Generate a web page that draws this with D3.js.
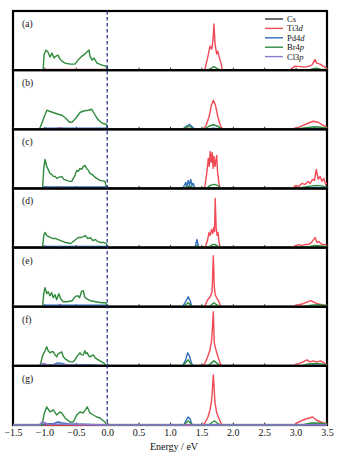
<!DOCTYPE html>
<html><head><meta charset="utf-8">
<script src="https://cdn.jsdelivr.net/npm/d3@7"></script>
<style>body{margin:0;background:#fff}svg{display:block}text{font-family:"Liberation Serif","Times New Roman",serif;fill:#111}</style>
</head><body><div id="chart"></div>
<script>
// ---- data (energy eV, DOS arb.) ----
const panelLabels = ["(a)","(b)","(c)","(d)","(e)","(f)","(g)"];
const seriesNames = ["Cs","Ti3d","Pd4d","Br4p","Cl3p"];
const xTicks = [-1.5,-1.0,-0.5,0.0,0.5,1.0,1.5,2.0,2.5,3.0,3.5];
const csZero = [[-1.5,0],[3.5,0]];

const aTi = [[-1.5,0],[-1.05,0],[-1.02,0.6],[-0.5,0.6],[-0.02,0.6],[0,0],[1.55,0],[1.557,1],[1.605,14],[1.637,24],[1.664,21],[1.685,30],[1.70,46],[1.717,26],[1.744,16],[1.76,19],[1.78,14],[1.812,7],[1.833,0],[2.91,0],[2.99,4],[3.15,3],[3.256,4.7],[3.31,10.7],[3.335,7],[3.389,6],[3.437,4],[3.5,2]];
const aBr = [[-1.5,0],[-1.02,0],[-1.006,15],[-0.975,20],[-0.943,18],[-0.911,13],[-0.879,17],[-0.847,12],[-0.815,14],[-0.783,15],[-0.752,11],[-0.72,9],[-0.672,7],[-0.592,6],[-0.513,6],[-0.465,10],[-0.40,14],[-0.338,17],[-0.29,20],[-0.274,14],[-0.242,10],[-0.21,12],[-0.162,7],[-0.083,5],[-0.019,4],[0,0],[1.6,0],[1.66,2],[1.70,3.5],[1.74,2],[1.8,0],[3.2,0],[3.28,1.5],[3.33,2],[3.4,1],[3.5,0.5]];

const bTi = [[-1.5,0],[-0.85,0],[-0.75,1.3],[-0.65,0],[1.2,0],[1.28,1],[1.33,0],[1.52,0],[1.57,3],[1.62,12],[1.66,24],[1.69,29],[1.72,25],[1.76,13],[1.8,4],[1.84,0],[2.9,0],[3.0,1],[3.12,4],[3.2,6],[3.28,8],[3.36,7],[3.44,4],[3.5,2]];
const bPd = [[-1.5,0],[-1.05,0],[-1.0,1],[-0.5,1.2],[-0.02,1],[0,0],[1.2,0],[1.26,3],[1.31,5],[1.36,2],[1.4,0],[1.6,0],[1.69,1],[1.8,0],[3.0,0],[3.3,1],[3.5,0.5]];
const bBr = [[-1.5,0],[-1.08,0],[-1.04,6],[-1.0,13],[-0.96,19],[-0.92,18],[-0.85,16.5],[-0.78,15],[-0.72,14],[-0.66,11],[-0.6,7],[-0.56,7],[-0.5,11],[-0.43,17],[-0.36,18.5],[-0.3,19],[-0.25,20],[-0.2,15],[-0.15,10],[-0.1,7],[-0.05,5.5],[-0.01,5],[0,0],[1.2,0],[1.27,2.5],[1.31,3],[1.36,1],[1.4,0],[1.55,0],[1.62,3],[1.69,4.5],[1.76,3],[1.84,0],[2.9,0],[3.1,1.2],[3.3,2.5],[3.4,2],[3.5,1]];

const cTi = [[-1.5,0],[-0.85,0],[-0.78,1.5],[-0.7,0],[1.55,0],[1.57,8],[1.59,18],[1.61,30],[1.625,22],[1.64,37],[1.655,26],[1.672,36],[1.687,20],[1.70,32],[1.717,22],[1.744,33],[1.755,18],[1.78,5],[1.8,0],[2.95,0],[3.0,3],[3.05,2],[3.1,5],[3.15,4],[3.2,7],[3.23,5],[3.27,9],[3.3,8],[3.33,19],[3.36,9],[3.39,12],[3.42,7],[3.45,10],[3.48,4],[3.5,6]];
const cPd = [[-1.5,0],[-1.05,0],[-1.0,1.5],[-0.5,1.5],[-0.02,1.5],[0,0],[1.2,0],[1.23,3],[1.25,6],[1.27,2],[1.29,8],[1.31,3],[1.33,9],[1.35,3],[1.37,5],[1.4,0],[3.1,0],[3.3,1],[3.5,0.5]];
const cBr = [[-1.5,0],[-1.03,0],[-1.01,20],[-0.99,29],[-0.963,22],[-0.94,19],[-0.911,15],[-0.885,14],[-0.858,12],[-0.83,12],[-0.805,10],[-0.77,11],[-0.725,12],[-0.69,9],[-0.645,8],[-0.6,7],[-0.565,7],[-0.52,12],[-0.486,18],[-0.46,17],[-0.433,20],[-0.405,19],[-0.38,22],[-0.354,23],[-0.327,20],[-0.3,18],[-0.274,15],[-0.245,14],[-0.221,13],[-0.19,11],[-0.167,10],[-0.115,8],[-0.035,7],[-0.008,0],[1.2,0],[1.28,2],[1.33,2],[1.4,0],[1.58,0],[1.64,3],[1.7,4],[1.76,3],[1.8,0],[3.0,0],[3.2,2],[3.35,3],[3.45,2],[3.5,1]];

const dTi = [[-1.5,0],[-0.8,0],[-0.75,1],[-0.7,0],[1.56,0],[1.6,8],[1.62,15],[1.64,12],[1.66,18],[1.68,14],[1.695,20],[1.71,16],[1.72,49],[1.735,20],[1.75,12],[1.765,15],[1.78,6],[1.8,0],[2.93,0],[3.0,2],[3.05,3],[3.1,2],[3.15,3],[3.2,3],[3.25,5],[3.31,10],[3.34,5],[3.37,6],[3.42,3],[3.47,3],[3.5,2]];
const dPd = [[-1.5,0],[-1.05,0],[-1.0,1],[-0.5,1],[-0.02,1],[0,0],[1.15,0],[1.19,1],[1.23,0],[1.4,0],[1.42,6],[1.43,8],[1.445,3],[1.46,0]];
const dBr = [[-1.5,0],[-1.03,0],[-1.01,12],[-0.99,15],[-0.96,12],[-0.93,11],[-0.9,10],[-0.86,9],[-0.82,9],[-0.78,8],[-0.74,7],[-0.7,6],[-0.66,5],[-0.62,4.5],[-0.58,4],[-0.54,6],[-0.5,8],[-0.46,10],[-0.42,10],[-0.38,11],[-0.35,12],[-0.31,9],[-0.27,10],[-0.23,7],[-0.19,8],[-0.15,6],[-0.1,5],[-0.05,5],[-0.01,4],[0,0],[1.4,0],[1.43,2],[1.46,0],[1.6,0],[1.68,3],[1.72,3],[1.8,0],[3.1,0],[3.3,2],[3.5,1]];

const eTi = [[-1.5,0],[-0.8,0],[-0.75,2],[-0.7,0],[1.55,0],[1.6,7],[1.64,10],[1.67,15],[1.69,51],[1.705,20],[1.72,12],[1.75,8],[1.78,5],[1.81,0],[2.95,0],[3.05,2],[3.12,3],[3.2,5],[3.25,6],[3.3,4],[3.35,3],[3.42,2],[3.5,1]];
const ePd = [[-1.5,0],[-1.05,0],[-1.0,1.5],[-0.5,1.5],[-0.02,1.5],[0,0],[1.2,0],[1.25,5],[1.29,10],[1.32,6],[1.35,0]];
const eBr = [[-1.5,0],[-1.03,0],[-1.01,13],[-0.99,19],[-0.963,13],[-0.94,15],[-0.911,11],[-0.885,14],[-0.858,9],[-0.83,12],[-0.805,7],[-0.77,13],[-0.74,8],[-0.7,5],[-0.64,5],[-0.56,6],[-0.51,10],[-0.47,11],[-0.44,9],[-0.41,15],[-0.38,16],[-0.36,10],[-0.33,8],[-0.27,6],[-0.18,5],[-0.09,4],[-0.02,4],[0,0],[1.22,0],[1.27,3],[1.29,4],[1.32,2],[1.35,0],[1.62,0],[1.68,3],[1.7,4],[1.74,2],[1.8,0],[3.1,0],[3.25,1.5],[3.35,2],[3.5,1]];

const fTi = [[-1.5,0],[1.52,0],[1.56,3],[1.6,9],[1.637,16],[1.664,26],[1.69,54],[1.705,23],[1.744,13],[1.78,6],[1.796,3],[1.82,0],[2.93,0],[3.0,1],[3.08,3],[3.12,4],[3.18,6],[3.23,4],[3.28,5],[3.33,4],[3.4,5],[3.45,3],[3.5,1]];
const fPd = [[-1.5,0],[-1.05,0],[-1.0,1],[-0.85,1.5],[-0.78,3],[-0.72,2.5],[-0.65,1],[-0.3,1],[0,0],[1.2,0],[1.25,6],[1.28,13],[1.31,10],[1.34,3],[1.37,0],[3.1,0],[3.3,1],[3.5,0]];
const fBr = [[-1.5,0],[-1.07,0],[-1.03,10],[-0.99,15],[-0.963,19],[-0.94,15],[-0.911,13],[-0.885,14],[-0.858,14],[-0.83,11],[-0.805,9],[-0.78,12],[-0.752,13],[-0.725,14],[-0.699,9],[-0.67,7],[-0.645,6],[-0.62,5],[-0.592,4],[-0.54,4],[-0.51,6],[-0.486,9],[-0.46,11],[-0.433,13],[-0.41,11],[-0.38,11],[-0.354,15],[-0.335,12],[-0.317,13],[-0.295,10],[-0.274,9],[-0.25,10],[-0.221,11],[-0.19,8],[-0.167,7],[-0.115,5],[-0.06,3],[-0.008,0],[1.2,0],[1.26,4],[1.29,6],[1.32,3],[1.36,0],[1.6,0],[1.66,3],[1.7,5],[1.74,3],[1.8,0],[3.1,0],[3.2,2],[3.35,2.5],[3.5,1]];
const fCl = [[-1.5,0],[-1.07,0],[-1.04,2.5],[-1.0,2],[-0.95,1.2],[-0.6,0.8],[-0.2,0.5],[0,0],[3.5,0]];

const gTi = [[-1.5,0],[1.52,0],[1.557,2],[1.605,8],[1.637,15],[1.664,25],[1.69,50],[1.717,22],[1.744,12],[1.77,8],[1.81,2],[1.83,0],[2.98,0],[3.02,2],[3.12,5],[3.22,7],[3.27,8],[3.33,5],[3.4,3],[3.45,2],[3.5,1]];
const gPd = [[-1.5,0],[-1.05,0],[-1.0,1],[-0.85,1.5],[-0.78,3],[-0.72,2],[-0.6,1],[0,0],[1.22,0],[1.26,5],[1.29,8],[1.32,6],[1.35,0],[3.1,0],[3.3,1],[3.5,0]];
const gBr = [[-1.5,0],[-1.04,0],[-1.0,12],[-0.963,18],[-0.911,13],[-0.858,15],[-0.805,10],[-0.752,13],[-0.725,12],[-0.672,7],[-0.592,3],[-0.54,3],[-0.486,10],[-0.433,13],[-0.38,12],[-0.317,18],[-0.274,12],[-0.221,10],[-0.167,8],[-0.115,7],[-0.035,3],[-0.008,0],[1.22,0],[1.27,3],[1.29,4],[1.33,2],[1.36,0],[1.62,0],[1.68,3],[1.71,4],[1.75,2],[1.8,0],[3.1,0],[3.25,2],[3.35,2],[3.5,1]];
const gCl = [[-1.5,0],[-1.08,0],[-1.04,3],[-1.0,2.5],[-0.95,1],[-0.6,0.7],[0,0],[3.5,0]];

// panels: [Cs, Ti3d, Pd4d, Br4p, Cl3p]
const panels = [
  [csZero, aTi, null, aBr, null],
  [csZero, bTi, bPd, bBr, null],
  [csZero, cTi, cPd, cBr, null],
  [csZero, dTi, dPd, dBr, null],
  [csZero, eTi, ePd, eBr, null],
  [csZero, fTi, fPd, fBr, fCl],
  [csZero, gTi, gPd, gBr, gCl]
];
const colors = ["#333333","#ef4a55","#2f6dbd","#2f8a3c","#9178d0"];

// ---- layout ----
const W = 340, H = 457;
const L = 13, R = 327, T = 11, B = 425;
const n = panels.length;
const ph = (B - T) / n;

const svg = d3.select("#chart").append("svg").attr("width", W).attr("height", H);
const x = d3.scaleLinear().domain([-1.5, 3.5]).range([L, R]);
const y = d3.scaleLinear().domain([0, 59]).range([ph, 0]);
const line = d3.line().x(d => x(d[0])).y(d => y(d[1]));

svg.append("defs").append("clipPath").attr("id","clip")
  .append("rect").attr("x", L).attr("y", 0).attr("width", R - L).attr("height", ph + 1);

panels.forEach((ser, i) => {
  const g = svg.append("g").attr("transform", `translate(0,${T + i * ph})`);
  g.append("rect").attr("x", L).attr("y", 0).attr("width", R - L).attr("height", ph)
    .attr("fill", "none").attr("stroke", "#000").attr("stroke-width", 2.2);
  const ax = g.append("g").attr("transform", `translate(0,${ph})`)
    .call(d3.axisBottom(x).tickValues(xTicks).tickSize(-2.5).tickFormat(""));
  ax.select(".domain").remove();
  ax.selectAll("line").attr("stroke", "#333").attr("stroke-width", 1);
  const cg = g.append("g").attr("clip-path", "url(#clip)");
  ser.forEach((d, k) => {
    if (!d) return;
    cg.append("path").datum(d).attr("d", line).attr("fill", "none")
      .attr("stroke", colors[k]).attr("stroke-width", 1.4).attr("stroke-linejoin", "round");
  });
  g.append("text").attr("x", 22).attr("y", 16).attr("font-size", 9.5).text(panelLabels[i]);
});

svg.append("line").attr("x1", x(0)).attr("x2", x(0)).attr("y1", T).attr("y2", B)
  .attr("stroke", "#1f2a85").attr("stroke-width", 1.2).attr("stroke-dasharray", "3.5,2.5");

const bax = svg.append("g").attr("transform", `translate(0,${B})`)
  .call(d3.axisBottom(x).tickValues(xTicks).tickSize(0).tickPadding(4)
    .tickFormat(d => d3.format(".1f")(d).replace("-", "\u2212")));
bax.select(".domain").remove();
bax.selectAll("text").attr("font-family", "Liberation Serif, serif").attr("font-size", 10).attr("fill", "#111");

svg.append("text").attr("x", 174).attr("y", 450).attr("text-anchor", "middle")
  .attr("font-size", 10).text("Energy / eV");

const leg = svg.append("g");
const legLabels = [["Cs",""],["Ti3","d"],["Pd4","d"],["Br4","p"],["Cl3","p"]];
legLabels.forEach((lb, k) => {
  const yy = 19 + k * 9.4;
  leg.append("line").attr("x1", 265).attr("x2", 283).attr("y1", yy).attr("y2", yy)
    .attr("stroke", colors[k]).attr("stroke-width", 1.4);
  const t = leg.append("text").attr("x", 287).attr("y", yy + 3).attr("font-size", 8.5);
  t.append("tspan").text(lb[0]);
  if (lb[1]) t.append("tspan").attr("font-style", "italic").text(lb[1]);
});
</script></body></html>
